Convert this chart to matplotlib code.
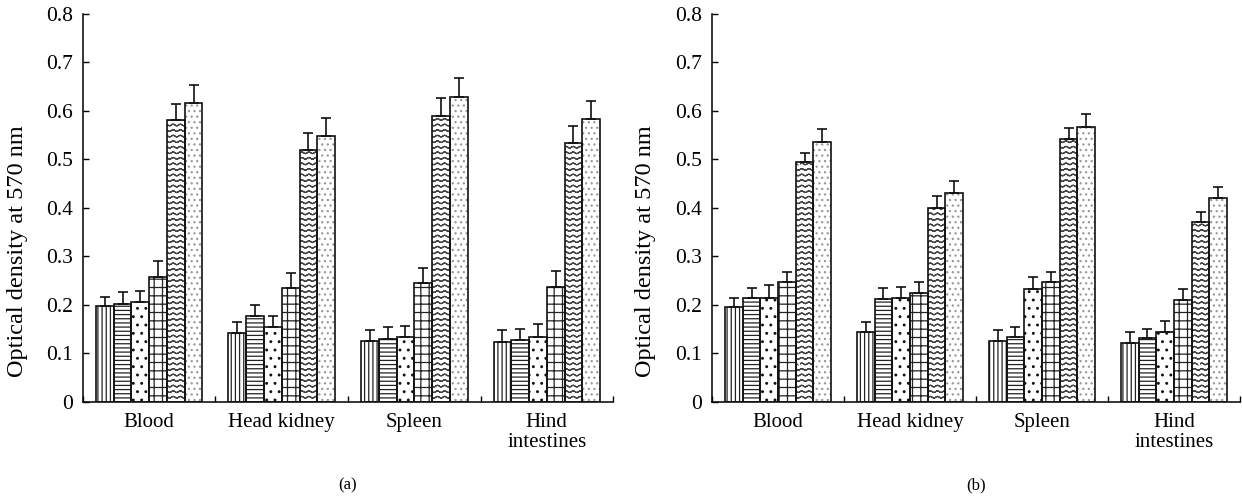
import numpy as np
import matplotlib
matplotlib.use("Agg")
import matplotlib.pyplot as plt
import matplotlib.hatch as mhatch
from matplotlib.path import Path

# ---------------- data ----------------
categories = ["Blood", "Head kidney", "Spleen", "Hind\nintestines"]

# panel (a): rows = categories, columns = 6 series
vals_a = [
    [0.197, 0.203, 0.206, 0.258, 0.581, 0.616],
    [0.142, 0.178, 0.155, 0.236, 0.520, 0.548],
    [0.126, 0.130, 0.133, 0.245, 0.590, 0.629],
    [0.123, 0.128, 0.135, 0.238, 0.535, 0.584],
]
errs_a = [
    [0.020, 0.023, 0.023, 0.033, 0.034, 0.038],
    [0.022, 0.022, 0.023, 0.029, 0.035, 0.038],
    [0.022, 0.025, 0.023, 0.032, 0.036, 0.038],
    [0.025, 0.023, 0.026, 0.033, 0.035, 0.036],
]
# panel (b)
vals_b = [
    [0.196, 0.215, 0.215, 0.247, 0.494, 0.537],
    [0.145, 0.212, 0.215, 0.224, 0.399, 0.431],
    [0.125, 0.134, 0.232, 0.247, 0.543, 0.568],
    [0.122, 0.132, 0.145, 0.210, 0.372, 0.421],
]
errs_b = [
    [0.019, 0.020, 0.026, 0.022, 0.019, 0.025],
    [0.019, 0.023, 0.023, 0.024, 0.025, 0.025],
    [0.023, 0.020, 0.025, 0.022, 0.022, 0.026],
    [0.023, 0.019, 0.023, 0.022, 0.020, 0.022],
]
ytick_vals = [0, 0.1, 0.2, 0.3, 0.4, 0.5, 0.6, 0.7, 0.8]
ytick_labels = ["0", "0.1", "0.2", "0.3", "0.4", "0.5", "0.6", "0.7", "0.8"]
ylabel = "Optical density at 570 nm"
panel_labels = ["(a)", "(b)"]


# ---------------- custom wavy hatch (uses the 'o' character) ----------------
class WaveHatch(mhatch.HatchPatternBase):
    periods = 14
    amp = 0.008

    def __init__(self, hatch, density):
        self.num_lines = int(hatch.count('o') * density)
        self.npts = self.periods * 8 + 1
        self.num_vertices = self.num_lines * self.npts * 2

    def set_vertices_and_codes(self, vertices, codes):
        n = self.npts
        x = np.linspace(0, 1, n)
        for i in range(self.num_lines):
            y0 = (i + 0.5) / self.num_lines
            y = y0 + self.amp * np.sin(2 * np.pi * self.periods * x)
            xs = np.concatenate([x, x[::-1]])
            ys = np.concatenate([y, y[::-1]])
            sl = slice(i * 2 * n, (i + 1) * 2 * n)
            vertices[sl, 0] = xs
            vertices[sl, 1] = ys
            codes[sl] = Path.LINETO
            codes[i * 2 * n] = Path.MOVETO


mhatch._hatch_types = [WaveHatch if t is mhatch.SmallCircles else t
                       for t in mhatch._hatch_types]

plt.rcParams['font.family'] = ['Liberation Serif', 'DejaVu Serif']
plt.rcParams['hatch.linewidth'] = 0.9

hatches = ['||||', '----', '..', '++', 'ooo', '...']
hatch_cols = ['#222222', '#222222', '#111111', '#222222', '#444444', '#9a9a9a']

fig = plt.figure(figsize=(12.42, 4.98), dpi=100)
ax_a = fig.add_axes([0.0668, 0.1928, 0.4268, 0.7791])
ax_b = fig.add_axes([0.5733, 0.1928, 0.4251, 0.7791])

w = 0.134
xc = np.arange(len(categories))

for ax, vals, errs, plab, ylx in [(ax_a, vals_a, errs_a, panel_labels[0], -0.104),
                                  (ax_b, vals_b, errs_b, panel_labels[1], -0.106)]:
    V = np.array(vals)
    E = np.array(errs)
    for j in range(V.shape[1]):
        xs = xc + (j - 2.5) * w
        ax.bar(xs, V[:, j], width=w, color='white', edgecolor=hatch_cols[j],
               linewidth=0, hatch=hatches[j], zorder=2)
        ax.bar(xs, V[:, j], width=w, fill=False, edgecolor='#111111',
               linewidth=1.2, zorder=3)
        ax.errorbar(xs, V[:, j], yerr=[np.zeros_like(E[:, j]), E[:, j]],
                    fmt='none', ecolor='#111111', elinewidth=1.2,
                    capsize=3.6, capthick=1.2, zorder=4)
    ax.set_xlim(-0.5, len(categories) - 0.5)
    ax.set_ylim(0, 0.8)
    ax.set_yticks(ytick_vals)
    ax.set_yticklabels(ytick_labels, fontsize=15.5)
    ax.set_xticks(xc)
    ax.set_xticklabels(categories, fontsize=15, linespacing=1.05)
    ax.set_xticks(np.arange(len(categories) + 1) - 0.5, minor=True)
    ax.tick_params(axis='x', which='major', length=0, pad=8)
    ax.tick_params(axis='x', which='minor', direction='in', length=4, width=1)
    ax.tick_params(axis='y', direction='in', length=4, width=1, pad=7)
    for s in ['top', 'right']:
        ax.spines[s].set_visible(False)
    for s in ['left', 'bottom']:
        ax.spines[s].set_linewidth(1.1)
    ax.set_ylabel(ylabel, fontsize=17.5)
    ax.yaxis.set_label_coords(ylx, 0.39)
    ax.text(0.5, -0.215, plab, transform=ax.transAxes, ha='center',
            va='center', fontsize=12)

fig.savefig("out.png", dpi=100)
